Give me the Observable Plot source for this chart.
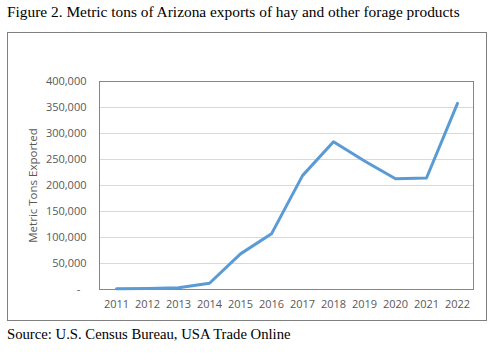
<!DOCTYPE html>
<html>
<head>
<meta charset="utf-8">
<script src="https://cdn.jsdelivr.net/npm/d3@7"></script>
<script src="https://cdn.jsdelivr.net/npm/@observablehq/plot@0.6"></script>
<style>
  html, body { margin: 0; padding: 0; background: #fff; }
  body { width: 504px; height: 353px; position: relative; overflow: hidden; }
  #title { position: absolute; left: 7px; top: 3px; font-family: "Liberation Serif", serif; font-size: 15.4px; color: #000; white-space: nowrap; }
  #box { position: absolute; left: 7px; top: 32px; width: 478px; height: 287px; border: 1px solid #7f7f7f; }
  #source { position: absolute; left: 7px; top: 326px; font-family: "Liberation Serif", serif; font-size: 14.7px; color: #000; white-space: nowrap; }
  #chart svg { display: block; }
</style>
</head>
<body>
<div id="title">Figure 2. Metric tons of Arizona exports of hay and other forage products</div>
<div id="box"><div id="chart"></div></div>
<div id="source">Source: U.S. Census Bureau, USA Trade Online</div>
<script>
const years = ["2011","2012","2013","2014","2015","2016","2017","2018","2019","2020","2021","2022"];
const tons = [1300, 2000, 3500, 12000, 68500, 107000, 219000, 284000, 247000, 213000, 214500, 358000];
const yTicks = [0, 50000, 100000, 150000, 200000, 250000, 300000, 350000, 400000];
const yLabel = "Metric Tons Exported";

const data = years.map((y, i) => ({year: y, value: tons[i]}));
const fmt = d => d === 0 ? "-\u2007" : d3.format(",")(d);

const chart = Plot.plot({
  width: 478,
  height: 287,
  marginLeft: 91,
  marginRight: 13,
  marginTop: 48,
  marginBottom: 31,
  style: {fontFamily: "'Open Sans', sans-serif", fontSize: "11px", color: "#595959", background: "#fff"},
  x: {type: "point", domain: years, padding: 0.5},
  y: {domain: [0, 400000]},
  marks: [
    Plot.gridY(yTicks, {stroke: "#d9d9d9", strokeOpacity: 1}),
    Plot.frame({stroke: "#868686"}),
    Plot.axisX({tickSize: 0, tickPadding: 11, label: null, fill: "#595959", fontSize: 11}),
    Plot.axisY(yTicks, {tickSize: 0, tickPadding: 13, tickFormat: fmt, fill: "#595959", fontSize: 11, label: null}),
    Plot.text([yLabel], {text: d => d, frameAnchor: "left", textAnchor: "middle", rotate: -90, dx: -66, fontSize: 11.5, fill: "#595959"}),
    Plot.line(data, {x: "year", y: "value", stroke: "#5b9bd5", strokeWidth: 3, strokeLinejoin: "round", strokeLinecap: "round"})
  ]
});
document.getElementById("chart").appendChild(chart);
</script>
</body>
</html>
